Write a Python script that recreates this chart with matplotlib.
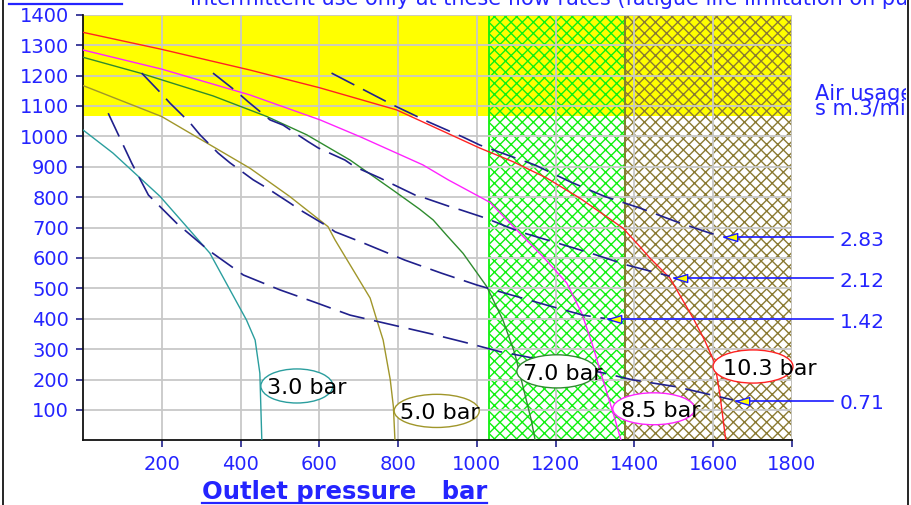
import matplotlib
matplotlib.use("Agg")
import matplotlib.pyplot as plt
from matplotlib.patches import Ellipse, Rectangle
from matplotlib.lines import Line2D
from matplotlib.transforms import Bbox, TransformedBbox

plt.rcParams["font.family"] = ["DejaVu Sans"]
plt.rcParams["lines.scale_dashes"] = False
plt.rcParams["hatch.linewidth"] = 1.0

# flow vs outlet pressure, one curve per inlet pressure
p30_x = [0, 76, 196, 322, 415, 437, 449, 454]
p30_y = [1021, 945, 802, 616, 396, 330, 221, 0]
p50_x = [0, 200, 424, 525, 622, 640, 729, 745, 762, 780, 788, 792]
p50_y = [1167, 1065, 895, 802, 703, 659, 468, 400, 330, 200, 111, 0]
p70_x = [0, 145, 330, 467, 568, 678, 787, 855, 889, 923, 965, 1025, 1066, 1096, 1117, 1138, 1148]
p70_y = [1260, 1208, 1133, 1065, 1005, 922, 823, 760, 725, 675, 615, 506, 396, 287, 177, 67, 0]
p85_x = [0, 200, 424, 602, 703, 863, 927, 1033, 1101, 1168, 1228, 1266, 1295, 1320, 1346, 1366]
p85_y = [1284, 1221, 1136, 1054, 999, 906, 857, 783, 692, 604, 518, 419, 308, 199, 90, 0]
p103_x = [0, 200, 424, 600, 796, 1008, 1091, 1177, 1261, 1329, 1371, 1414, 1439, 1490, 1549,
          1578, 1604, 1617, 1632]
p103_y = [1342, 1286, 1218, 1160, 1087, 961, 917, 863, 797, 736, 698, 637, 600, 534, 402,
          330, 254, 150, 0]

# air usage lines (m3/min)
a071_x = [64, 124, 166, 187, 238, 318, 407, 500, 585, 678, 805, 885, 974, 1058, 1126, 1320, 1396, 1508, 1650]
a071_y = [1076, 911, 807, 780, 714, 626, 544, 495, 456, 412, 374, 350, 321, 292, 275, 222, 199, 176, 133]
a142_x = [149, 200, 221, 272, 297, 343, 373, 432, 467, 525, 551, 618, 640, 703, 817, 910, 1000, 1088,
          1177, 1269, 1325]
a142_y = [1208, 1139, 1109, 1044, 1005, 945, 913, 857, 830, 781, 758, 706, 686, 654, 593, 550, 511, 478,
          445, 412, 401]
a212_x = [330, 390, 419, 475, 508, 571, 597, 665, 690, 754, 779, 843, 868, 931, 959, 1020, 1109, 1202,
          1291, 1380, 1490]
a212_y = [1208, 1147, 1114, 1054, 1037, 983, 962, 922, 900, 863, 847, 807, 797, 769, 758, 732, 686, 650,
          615, 577, 540]
a283_x = [631, 787, 876, 964, 1008, 1147, 1236, 1325, 1414, 1507, 1591, 1620]
a283_y = [1208, 1103, 1048, 998, 971, 906, 851, 802, 764, 719, 682, 672]

air_labels = ["2.83", "2.12", "1.42", "0.71"]
air_tip_x = [1627, 1500, 1334, 1659]
air_tip_y = [669, 533, 399, 130]
air_line_end = 1904
air_text_x = 1921

bar_labels = ["3.0 bar", "5.0 bar", "7.0 bar", "8.5 bar", "10.3 bar"]
bar_cx = [543, 898, 1203, 1449, 1701]
bar_cy = [179, 97, 227, 104, 243]
bar_w = [183, 216, 203, 208, 203]
bar_h = [112, 109, 109, 105, 109]
bar_text_x = [467, 805, 1117, 1365, 1624]

yellow_low = 1067
green_zone = (1030, 1375)
olive_zone = (1375, 1800)

x_ticks = list(range(200, 1801, 200))
y_ticks = list(range(100, 1401, 100))

BLUE = "#2424ff"
NAVY = "#20208c"
curve_cols = ["#2a9e9e", "#a0962a", "#2e8b2e", "#ff22ff", "#ff2222"]

W, H = 912, 505
fig = plt.figure(figsize=(W / 100, H / 100), dpi=100)
ax = fig.add_axes([83 / W, 1 - 440.4 / H, (792 - 83) / W, (440.4 - 14.7) / H])
ax.set_xlim(0, 1800)
ax.set_ylim(0, 1400)

ax.axhspan(yellow_low, 1400, color="#ffff00", lw=0, zorder=0.6)
ax.add_patch(Rectangle((green_zone[0], 0), green_zone[1] - green_zone[0], 1400,
                       facecolor="none", edgecolor="#10f010", hatch="xxx", lw=1.3, zorder=1))
ax.add_patch(Rectangle((olive_zone[0], 0), olive_zone[1] - olive_zone[0], 1400,
                       facecolor="none", edgecolor="#8a7a32", hatch="xxx", lw=1.3, zorder=1.1))

ax.set_xticks(x_ticks)
ax.set_yticks(y_ticks)
ax.grid(True, color="#c8c8c8", lw=1.3)
for s in ["top", "right"]:
    ax.spines[s].set_visible(False)
for s in ["left", "bottom"]:
    ax.spines[s].set_color("#111111")
    ax.spines[s].set_linewidth(1.3)
ax.tick_params(axis="both", direction="out", length=5, width=1.2, color=NAVY,
               labelcolor=BLUE, labelsize=14)
ax.tick_params(axis="y", pad=5)
ax.tick_params(axis="x", pad=5.5)

curves = [(p30_x, p30_y), (p50_x, p50_y), (p70_x, p70_y), (p85_x, p85_y), (p103_x, p103_y)]
for (xs, ys), c in zip(curves, curve_cols):
    ax.plot(xs, ys, color=c, lw=1.0, zorder=3)

for xs, ys in [(a071_x, a071_y), (a142_x, a142_y), (a212_x, a212_y), (a283_x, a283_y)]:
    ax.plot(xs, ys, color=NAVY, lw=1.2, dashes=(18.5, 7), zorder=3.5)

# arrows to the air usage values
head = [(0, 0), (2, 0.6), (2, -0.6), (0, 0)]
for lab, tx, ty in zip(air_labels, air_tip_x, air_tip_y):
    ax.plot([tx, air_line_end], [ty, ty], color="#1a1aff", lw=1.2, clip_on=False, zorder=6)
    ax.plot(tx, ty, marker=head, ms=19, mfc="#ffff00", mec="#1a1aff", mew=1.0,
            clip_on=False, zorder=7)
    ax.text(air_text_x, ty - 10, lab, color=BLUE, fontsize=14.5, va="center", ha="left",
            clip_on=False)

# pressure labels in ellipses
for lab, cx, cy, w, h, tx, c in zip(bar_labels, bar_cx, bar_cy, bar_w, bar_h, bar_text_x, curve_cols):
    ax.add_patch(Ellipse((cx, cy), w, h, facecolor="white", edgecolor=c, lw=1.0,
                         zorder=5, clip_on=False))
    ax.text(tx, cy - 8, lab, color="black", fontsize=16, va="center", ha="left",
            zorder=6, clip_on=False)

clip = TransformedBbox(Bbox([[0, 0], [906 / W, 1]]), fig.transFigure)

title = fig.text(190 / W, 1 - 5 / H,
                 "Intermittent use only at these flow rates (fatigue life limitation on pump)",
                 color=BLUE, fontsize=15, va="baseline", ha="left")
title.set_clip_box(clip)
title.set_clip_on(True)

for txt, yb in [("Air usage", 100), ("s m.3/min", 114.5)]:
    t = fig.text(815 / W, 1 - yb / H, txt, color=BLUE, fontsize=15, va="baseline", ha="left")
    t.set_clip_box(clip)
    t.set_clip_on(True)

xlab = fig.text(202 / W, 1 - 499 / H, "Outlet pressure   bar", color=BLUE, fontsize=17.5,
                fontweight="bold", va="baseline", ha="left")
ylab = fig.text(9 / W, 1 + 2 / H, "Flow l/min", color=BLUE, fontsize=14,
                fontweight="bold", va="baseline", ha="left")

fig.canvas.draw()
r = fig.canvas.get_renderer()
for t, yb in [(xlab, 502.5), (ylab, 4)]:
    bb = t.get_window_extent(r)
    fig.add_artist(Line2D([bb.x0 / W, bb.x1 / W], [1 - yb / H, 1 - yb / H],
                          color=BLUE, lw=1.6, transform=fig.transFigure))

# frame lines at the picture edges
for xp in [3, 908]:
    fig.add_artist(Line2D([xp / W, xp / W], [0, 1], color="black", lw=1.2,
                          transform=fig.transFigure))

fig.savefig("out.png", dpi=100)
